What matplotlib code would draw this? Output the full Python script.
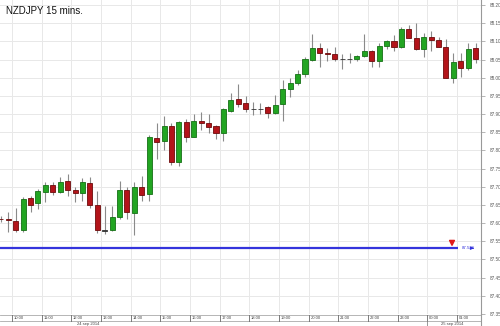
import matplotlib
matplotlib.use('Agg')
import matplotlib.pyplot as plt
import matplotlib.transforms as mtransforms
from matplotlib.lines import Line2D
import numpy as np
import pandas as pd

plt.rcParams['font.family'] = ['Liberation Sans', 'DejaVu Sans']

# NZDJPY 15 min candles, 24 sep 2014 09:30 -> 25 sep 2014 01:30
opens = [87.612, 87.610, 87.605, 87.580, 87.668, 87.654, 87.685, 87.704, 87.685, 87.715,
         87.690, 87.682, 87.709, 87.649, 87.580, 87.580, 87.616, 87.690, 87.627, 87.698,
         87.679, 87.833, 87.825, 87.868, 87.767, 87.879, 87.838, 87.882, 87.876, 87.866,
         87.849, 87.909, 87.942, 87.931, 87.915, 87.914, 87.920, 87.904, 87.929, 87.970,
         87.986, 88.011, 88.049, 88.082, 88.068, 88.066, 88.052, 88.051, 88.052, 88.060,
         88.074, 88.046, 88.088, 88.101, 88.085, 88.134, 88.110, 88.079, 88.112, 88.104,
         88.085, 88.000, 88.046, 88.027, 88.082]
highs = [87.619, 87.630, 87.641, 87.671, 87.674, 87.693, 87.712, 87.712, 87.726, 87.734,
         87.698, 87.723, 87.726, 87.687, 87.646, 87.646, 87.715, 87.698, 87.712, 87.729,
         87.841, 87.876, 87.896, 87.874, 87.882, 87.885, 87.901, 87.907, 87.901, 87.871,
         87.918, 87.959, 87.983, 87.951, 87.934, 87.931, 87.923, 87.953, 87.994, 88.000,
         88.022, 88.057, 88.120, 88.096, 88.082, 88.085, 88.066, 88.068, 88.063, 88.120,
         88.075, 88.096, 88.104, 88.118, 88.140, 88.145, 88.151, 88.123, 88.129, 88.112,
         88.107, 88.068, 88.068, 88.096, 88.096]
lows = [87.602, 87.575, 87.575, 87.575, 87.630, 87.638, 87.657, 87.676, 87.684, 87.674,
        87.657, 87.660, 87.641, 87.572, 87.570, 87.578, 87.611, 87.611, 87.567, 87.660,
        87.660, 87.775, 87.800, 87.759, 87.756, 87.822, 87.836, 87.857, 87.849, 87.830,
        87.827, 87.907, 87.920, 87.907, 87.898, 87.901, 87.890, 87.901, 87.882, 87.948,
        87.981, 88.003, 88.046, 88.030, 88.046, 88.046, 88.024, 88.041, 88.046, 88.057,
        88.030, 88.030, 88.079, 88.074, 88.082, 88.109, 88.077, 88.057, 88.074, 88.084,
        87.999, 87.986, 88.003, 88.022, 88.041]
closes = [87.610, 87.608, 87.580, 87.666, 87.649, 87.687, 87.704, 87.685, 87.712, 87.690,
          87.682, 87.712, 87.649, 87.580, 87.579, 87.616, 87.690, 87.630, 87.698, 87.676,
          87.836, 87.822, 87.866, 87.767, 87.879, 87.838, 87.882, 87.876, 87.863, 87.849,
          87.915, 87.940, 87.929, 87.915, 87.914, 87.915, 87.904, 87.926, 87.970, 87.986,
          88.011, 88.052, 88.082, 88.068, 88.066, 88.052, 88.051, 88.052, 88.060, 88.074,
          88.046, 88.088, 88.101, 88.085, 88.134, 88.110, 88.079, 88.112, 88.104, 88.085,
          88.000, 88.044, 88.027, 88.079, 88.052]

level = 87.531
level_label = '87.531'
hour_ticks = list(range(10, 26))
y_ticks = np.round(np.arange(87.35, 88.201, 0.05), 2)
dates = ['24 sep 2014', '25 sep 2014']

times = pd.date_range('2014-09-24 09:30', periods=len(opens), freq='15min')
hrs = (times - pd.Timestamp('2014-09-24')) / pd.Timedelta(hours=1) + 0.125
hrs = np.asarray(hrs)

o = np.array(opens); h = np.array(highs); l = np.array(lows); c = np.array(closes)
up = c >= o

green, green_e = '#22a522', '#157015'
red, red_e = '#b3141a', '#6d0b0b'
blue = '#3434dc'

fig = plt.figure(figsize=(5, 3.26), dpi=100)
ax = fig.add_axes([0, 12 / 326, 481 / 500, 314 / 326])

ax.set_xlim(9.5956, 25.807)
ax.set_ylim(87.353, 88.2137)

# wicks then bodies
ax.vlines(hrs, l, h, color='#8a8a8a', lw=0.8, zorder=2)
body_lo = np.minimum(o, c)
body_h = np.maximum(np.abs(c - o), 0.0008)
fc = [green if u else red for u in up]
ec = [green_e if u else red_e for u in up]
for i in range(len(o)):
    if abs(c[i] - o[i]) < 0.0015:
        fc[i] = '#333333'
        ec[i] = '#333333'
ax.bar(hrs, body_h, bottom=body_lo, width=0.17, color=fc, edgecolor=ec,
       linewidth=0.6, zorder=3)

# support level
ax.hlines(level, 9.5956, 25.03, color=blue, lw=1.6, zorder=4)
ax.text(25.16, level, level_label, fontsize=3.2, color=blue, va='center', ha='left')
ax.annotate('', xy=(25.66, level), xytext=(25.42, level),
            arrowprops=dict(arrowstyle='-|>', color=blue, lw=0.8, mutation_scale=4),
            annotation_clip=False)
ax.annotate('', xy=(24.83, 87.539), xytext=(24.83, 87.553),
            arrowprops=dict(arrowstyle='simple', color='#e01a1a', mutation_scale=7))

# grid and axes
ax.set_xticks(hour_ticks)
ax.set_yticks(y_ticks)
ax.grid(color='#e8e8e8', lw=0.7, zorder=0)
ax.set_axisbelow(True)
ax.yaxis.tick_right()
ax.set_yticklabels(['%.2f' % v for v in y_ticks])
ax.tick_params(axis='y', labelsize=3.3, length=3, width=0.5, color='#999999',
               labelcolor='#555555', pad=3)
ax.tick_params(axis='x', length=0, labelbottom=False)
for s in ['top', 'left', 'bottom']:
    ax.spines[s].set_visible(False)
ax.spines['right'].set_color('#999999')
ax.spines['right'].set_linewidth(0.8)

# x axis band
trans = mtransforms.blended_transform_factory(ax.transData, fig.transFigure)
y_top, y_bot, y_lab = 1 - 315 / 326, 1 - 321 / 326, 1 - 318 / 326
for yy in (y_top, y_bot):
    fig.add_artist(Line2D([0, 481 / 500], [yy, yy], color='#aaaaaa', lw=0.6))
fig.add_artist(Line2D([481 / 500, 481 / 500], [0, 12 / 326], color='#999999', lw=0.8))
for hh in hour_ticks:
    fig.add_artist(Line2D([hh, hh], [y_bot, y_top], color='#666666', lw=0.6,
                          transform=trans))
    fig.text(hh + 0.06, y_lab, '%02d:00' % (hh % 24), fontsize=3.0, color='#444444',
             va='center', ha='left', transform=trans)
fig.add_artist(Line2D([24, 24], [0, y_bot], color='#888888', lw=0.6, transform=trans))
fig.text(12.56, 1 - 323.5 / 326, dates[0], fontsize=3.0, color='#444444',
         va='center', ha='center', transform=trans)
fig.text(24.83, 1 - 323.5 / 326, dates[1], fontsize=3.0, color='#444444',
         va='center', ha='center', transform=trans)

fig.text(0.012, 1 - 10.5 / 326, 'NZDJPY 15 mins.', fontsize=7, color='#111111',
         va='center', ha='left')

fig.savefig('out.png', dpi=100)
